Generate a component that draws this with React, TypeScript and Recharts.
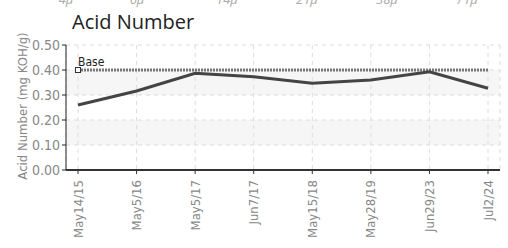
import React from "react";
import {
  LineChart,
  Line,
  XAxis,
  YAxis,
  CartesianGrid,
} from "recharts";

// sample dates and measured acid number (mg KOH/g)
const categories = [
  "May14/15",
  "May5/16",
  "May5/17",
  "Jun7/17",
  "May15/18",
  "May28/19",
  "Jun29/23",
  "Jul2/24",
];
const acidValues = [0.26, 0.316, 0.387, 0.373, 0.347, 0.36, 0.393, 0.327];
const baseValues = [0.4, 0.4, 0.4, 0.4, 0.4, 0.4, 0.4, 0.4];
const yTicks = [0, 0.1, 0.2, 0.3, 0.4, 0.5];

// particle size labels from the chart above (cut off at the top)
const particleSizes = ["4µ", "6µ", "14µ", "21µ", "38µ", "71µ"];
const particleX = [66, 137, 227, 307, 387, 467];

const narrow = "'Liberation Sans Narrow', 'DejaVu Sans Condensed', sans-serif";

const chartData = categories.map((c, i) => ({
  date: c,
  acid: acidValues[i],
  base: baseValues[i],
}));

const BaseDot = (props: any) => {
  const { cx, cy, index } = props;
  if (index !== 0) return <g key={`bd-${index}`} />;
  return (
    <g key={`bd-${index}`}>
      <rect
        x={cx - 2.5}
        y={cy - 2.5}
        width={5}
        height={5}
        fill="#fff"
        stroke="#333"
        strokeWidth={1}
      />
      <text x={cx} y={cy - 4} fontSize={12} fill="#222" fontFamily={narrow}>
        Base
      </text>
    </g>
  );
};

const DateTick = (props: any) => {
  const { x, y, payload } = props;
  return (
    <text
      transform={`translate(${x},${y + 4}) rotate(-90)`}
      textAnchor="end"
      dy="0.35em"
      fontSize={13}
      fill="#888"
      fontFamily={narrow}
    >
      {payload.value}
    </text>
  );
};

export default function App() {
  return (
    <div
      style={{
        position: "fixed",
        left: 0,
        top: 0,
        width: 508,
        height: 248,
        background: "#fff",
        overflow: "hidden",
      }}
    >
      {particleSizes.map((p, i) => (
        <div
          key={p}
          style={{
            position: "absolute",
            left: particleX[i] - 20,
            width: 40,
            top: -8,
            textAlign: "center",
            fontFamily: "'Open Sans', sans-serif",
            fontStyle: "italic",
            fontSize: 13,
            lineHeight: "14px",
            color: "#aaa",
          }}
        >
          {p}
        </div>
      ))}
      <div
        style={{
          position: "absolute",
          left: 72,
          top: 12,
          fontFamily: "'Open Sans', sans-serif",
          fontSize: 20,
          color: "#222",
          lineHeight: "20px",
        }}
      >
        Acid Number
      </div>
      <LineChart
        width={508}
        height={248}
        data={chartData}
        margin={{ top: 45, right: 8, bottom: 0, left: 0 }}
      >
        <CartesianGrid
          stroke="#dcdcdc"
          strokeDasharray="4 4"
          horizontalFill={["#ffffff", "#f6f6f6"]}
          fillOpacity={1}
        />
        <XAxis
          dataKey="date"
          height={78}
          padding={{ left: 12, right: 12 }}
          interval={0}
          axisLine={{ stroke: "#333", strokeWidth: 2 }}
          tickLine={{ stroke: "#333" }}
          tickSize={4}
          tick={<DateTick />}
        />
        <YAxis
          width={66}
          domain={[0, 0.5]}
          ticks={yTicks}
          interval={0}
          tickFormatter={(v: number) => v.toFixed(2)}
          axisLine={{ stroke: "#222" }}
          tickLine={{ stroke: "#222" }}
          tickSize={4}
          tickMargin={2}
          tick={{ fontSize: 14, fill: "#888", fontFamily: narrow }}
          label={{
            content: () => (
              <text
                transform="translate(27,106) rotate(-90)"
                textAnchor="middle"
                fontSize={13}
                fill="#888"
                fontFamily={narrow}
              >
                Acid Number (mg KOH/g)
              </text>
            ),
          }}
        />
        <Line
          dataKey="base"
          stroke="#777"
          strokeWidth={3}
          strokeDasharray="2 1"
          dot={<BaseDot />}
          activeDot={false}
          isAnimationActive={false}
        />
        <Line
          dataKey="acid"
          stroke="#444"
          strokeWidth={3}
          dot={false}
          activeDot={false}
          isAnimationActive={false}
        />
      </LineChart>
    </div>
  );
}
